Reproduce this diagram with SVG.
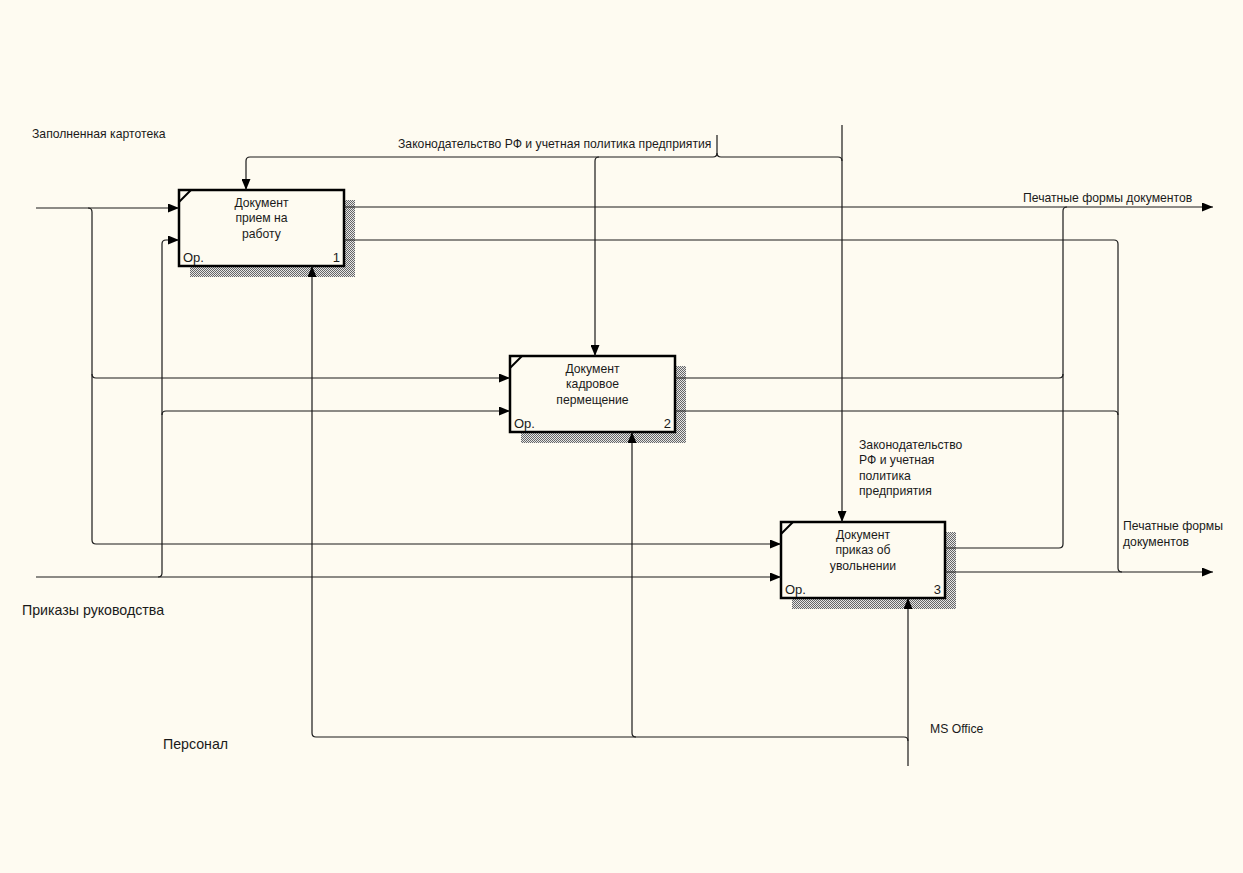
<svg xmlns="http://www.w3.org/2000/svg" width="1243" height="873" viewBox="0 0 1243 873">
<defs>
<style>
.c{fill:none;stroke:#1a1a1a;stroke-width:1.2}
.ca{fill:none;stroke:#1a1a1a;stroke-width:1.2;marker-end:url(#ah)}
.box{fill:#FEFBF1;stroke:#000;stroke-width:2.5}
.sh{fill:url(#hatch)}
.t{font-family:"Liberation Sans",Arial,sans-serif;font-size:12.2px;fill:#1a1a1a}
.tb{font-family:"Liberation Sans",Arial,sans-serif;font-size:12.2px;fill:#1a1a1a;text-anchor:middle}
.tl{font-family:"Liberation Sans",Arial,sans-serif;font-size:14.2px;fill:#1a1a1a}
.op{font-family:"Liberation Sans Narrow","Liberation Sans",Arial,sans-serif;font-size:13px;fill:#1a1a1a}
</style>
<pattern id="hatch" width="2" height="2" patternUnits="userSpaceOnUse">
<rect width="2" height="2" fill="#e6e6e6"/>
<rect width="1" height="1" fill="#666"/>
<rect x="1" y="1" width="1" height="1" fill="#666"/>
</pattern>
<marker id="ah" markerWidth="11" markerHeight="9" refX="11" refY="4.5" orient="auto" markerUnits="userSpaceOnUse">
<path d="M0,0 L11,4.5 L0,9 z" fill="#000"/>
</marker>
</defs>
<rect width="1243" height="873" fill="#FEFBF1"/>

<g id="node1">
<rect class="sh" x="190" y="200" width="165" height="77"/>
<rect class="box" x="179" y="190" width="165" height="76"/>
<path d="M179,202 L191,190" stroke="#000" stroke-width="2"/>
<text class="tb" x="261.5" y="207">Документ</text>
<text class="tb" x="261.5" y="222">прием на</text>
<text class="tb" x="261.5" y="238">работу</text>
<text class="op" x="183" y="262">Op.</text>
<text class="op" x="340" y="262" text-anchor="end">1</text>
</g>

<g id="node2">
<rect class="sh" x="521" y="366" width="165" height="77"/>
<rect class="box" x="510" y="356" width="165" height="76"/>
<path d="M510,368 L522,356" stroke="#000" stroke-width="2"/>
<text class="tb" x="592.5" y="373">Документ</text>
<text class="tb" x="592.5" y="388">кадровое</text>
<text class="tb" x="592.5" y="404">пермещение</text>
<text class="op" x="514" y="428">Op.</text>
<text class="op" x="671" y="428" text-anchor="end">2</text>
</g>

<g id="node3">
<rect class="sh" x="792" y="532" width="164" height="77"/>
<rect class="box" x="781" y="522" width="164" height="76"/>
<path d="M781,534 L793,522" stroke="#000" stroke-width="2"/>
<text class="tb" x="863" y="539">Документ</text>
<text class="tb" x="863" y="554">приказ об</text>
<text class="tb" x="863" y="570">увольнении</text>
<text class="op" x="785" y="594">Op.</text>
<text class="op" x="941" y="594" text-anchor="end">3</text>
</g>

<g id="connectors">
<path class="ca" d="M36,208 H179"/>
<path class="ca" d="M88,208 Q92,208 92,212 V540 Q92,544 96,544 H781"/>
<path class="ca" d="M92,374 Q92,378 96,378 H510"/>
<path class="ca" d="M36,577 H781"/>
<path class="ca" d="M158,577 Q162,577 162,573 V244 Q162,240 166,240 H179"/>
<path class="ca" d="M162,415 Q162,411 166,411 H510"/>
<path class="ca" d="M717,135 V153 Q717,157 713,157 H250 Q246,157 246,161 V190"/>
<path class="c" d="M717,153 Q717,157 721,157 H838 Q842,157 842,161"/>
<path class="ca" d="M599,157 Q595,157 595,161 V356"/>
<path class="ca" d="M842,125 V522"/>
<path class="ca" d="M908,766 V598"/>
<path class="ca" d="M908,741 Q908,737 904,737 H316 Q312,737 312,733 V266"/>
<path class="ca" d="M636,737 Q632,737 632,733 V432"/>
<path class="ca" d="M344,207 H1213"/>
<path class="c" d="M344,240 H1114 Q1118,240 1118,244 V568 Q1118,572 1122,572"/>
<path class="ca" d="M945,572 H1213"/>
<path class="c" d="M945,548 H1059 Q1063,548 1063,544 V211 Q1063,207 1067,207"/>
<path class="c" d="M675,378 H1059 Q1063,378 1063,374"/>
<path class="c" d="M675,411 H1114 Q1118,411 1118,415"/>
</g>

<g id="labels">
<text class="t" x="32" y="138">Заполненная картотека</text>
<text class="t" x="398" y="148">Законодательство РФ и учетная политика предприятия</text>
<text class="t" x="1023" y="202">Печатные формы документов</text>
<text class="t" x="1123" y="530">Печатные формы</text>
<text class="t" x="1123" y="546">документов</text>
<text class="t" x="859" y="449">Законодательство</text>
<text class="t" x="859" y="464">РФ и учетная</text>
<text class="t" x="859" y="480">политика</text>
<text class="t" x="859" y="495">предприятия</text>
<text class="tl" x="22" y="615">Приказы руководства</text>
<text class="tl" x="163" y="749">Персонал</text>
<text class="t" x="930" y="733">MS Office</text>
</g>
</svg>
